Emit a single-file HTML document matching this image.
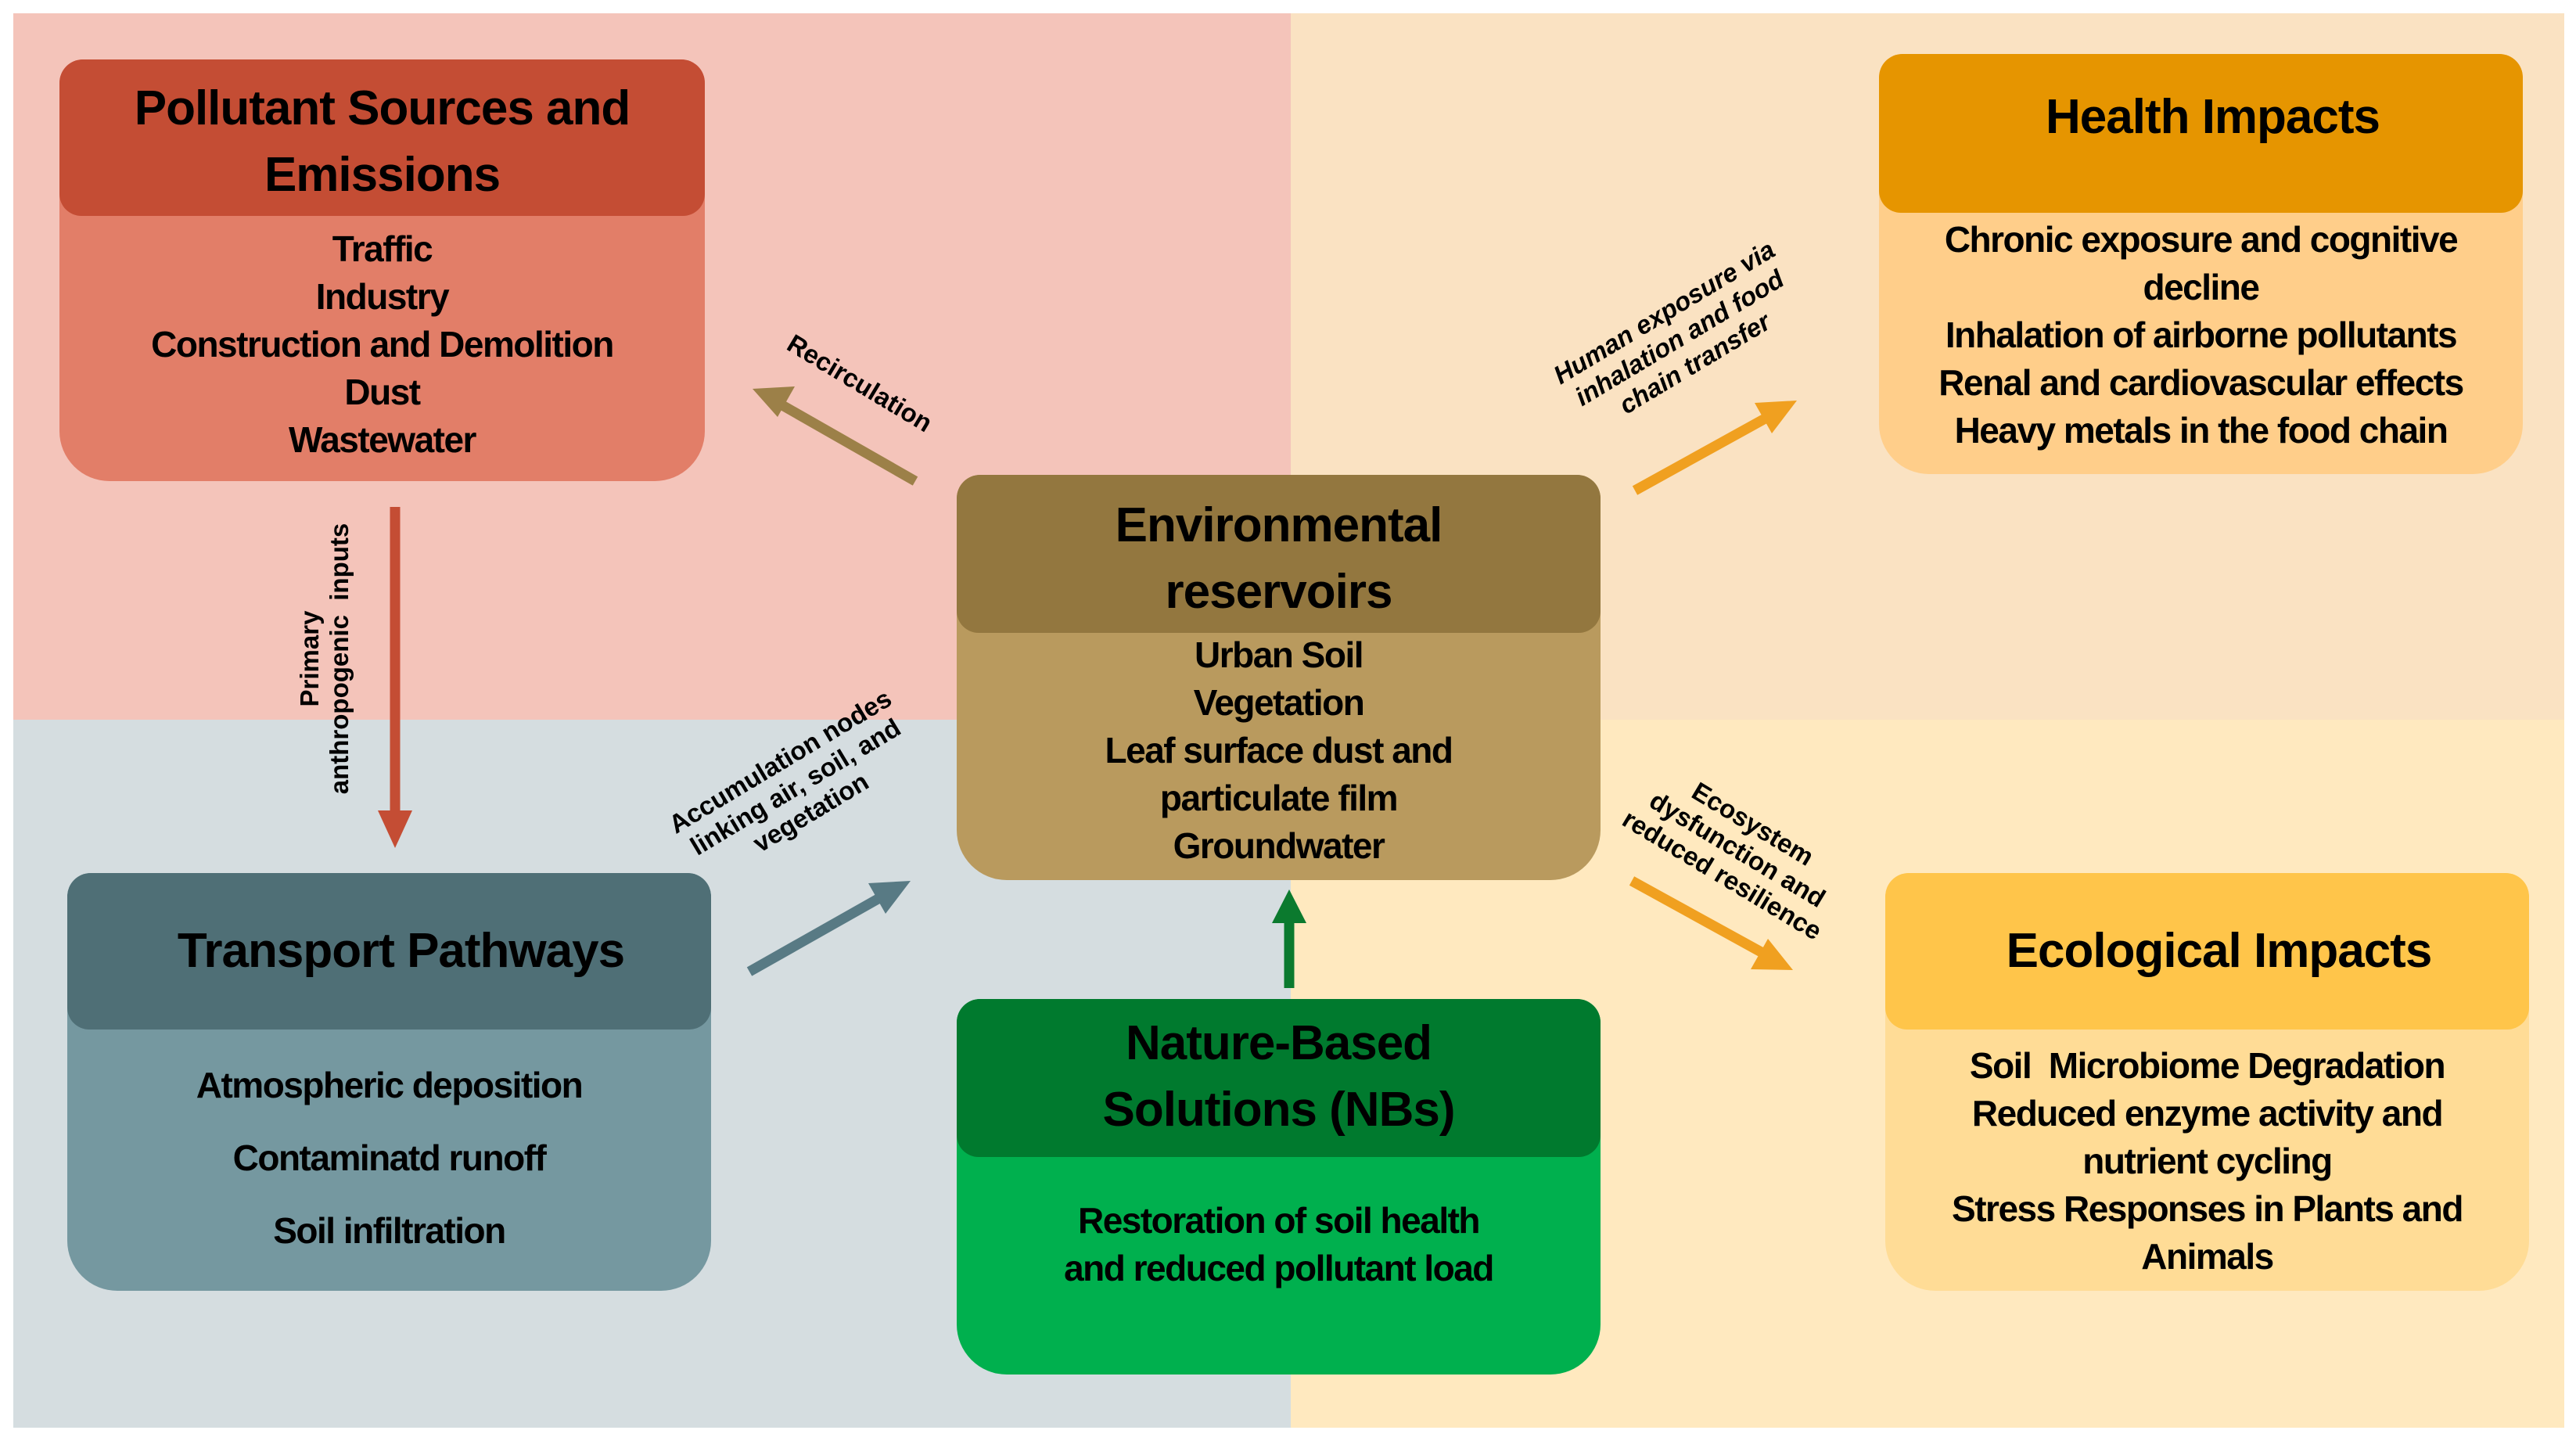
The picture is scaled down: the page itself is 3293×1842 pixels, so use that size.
<!DOCTYPE html>
<html><head><meta charset="utf-8"><style>
*{margin:0;padding:0;box-sizing:border-box}
body{width:3293px;height:1842px;background:#fff;position:relative;overflow:hidden;font-family:"Liberation Sans",sans-serif;font-weight:bold;color:#000}
.q{position:absolute}
.box{position:absolute;border-radius:30px 30px 64px 64px;overflow:hidden}
.hd{position:absolute;left:0;right:0;top:0;border-radius:28px;text-align:center;font-size:62px;line-height:85px;letter-spacing:-1px}
.bd{position:absolute;left:0;right:0;text-align:center;font-size:46px;line-height:61px;letter-spacing:-1.5px}
.lab{position:absolute;font-size:33px;line-height:38px;text-align:center;white-space:nowrap;transform-origin:center}
</style></head><body>
<div class="q" style="left:17px;top:17px;width:1633px;height:903px;background:#F4C4BA"></div>
<div class="q" style="left:17px;top:920px;width:1633px;height:905px;background:#D5DDE0"></div>
<div class="q" style="left:1650px;top:17px;width:1628px;height:903px;background:#FAE2C2"></div>
<div class="q" style="left:1650px;top:920px;width:1628px;height:905px;background:#FFE9BF"></div>

<div class="box" style="left:76px;top:76px;width:825px;height:539px;background:#E27E68">
 <div class="hd" style="height:200px;background:#C44D34;padding-top:20px">Pollutant Sources and<br>Emissions</div>
 <div class="bd" style="top:212px">Traffic<br>Industry<br>Construction and Demolition<br>Dust<br>Wastewater</div>
</div>

<div class="box" style="left:86px;top:1116px;width:823px;height:534px;background:#7598A0">
 <div class="hd" style="height:200px;background:#4F6F76;line-height:200px;padding-left:30px">Transport Pathways</div>
 <div class="bd" style="top:225px;line-height:93px">Atmospheric deposition<br>Contaminatd runoff<br>Soil infiltration</div>
</div>

<div class="box" style="left:1223px;top:607px;width:823px;height:518px;background:#B99A5E">
 <div class="hd" style="height:202px;background:#93773F;padding-top:22px">Environmental<br>reservoirs</div>
 <div class="bd" style="top:200px">Urban Soil<br>Vegetation<br>Leaf surface dust and<br>particulate film<br>Groundwater</div>
</div>

<div class="box" style="left:1223px;top:1277px;width:823px;height:480px;background:#00B04E">
 <div class="hd" style="height:202px;background:#007A2E;padding-top:14px">Nature-Based<br>Solutions (NBs)</div>
 <div class="bd" style="top:253px">Restoration of soil health<br>and reduced pollutant load</div>
</div>

<div class="box" style="left:2402px;top:69px;width:823px;height:537px;background:#FFCE8A">
 <div class="hd" style="height:203px;background:#E69500;line-height:6px;padding-top:78px;padding-left:30px">Health Impacts</div>
 <div class="bd" style="top:207px">Chronic exposure and cognitive<br>decline<br>Inhalation of airborne pollutants<br>Renal and cardiovascular effects<br>Heavy metals in the food chain</div>
</div>

<div class="box" style="left:2410px;top:1116px;width:823px;height:534px;background:#FFDC96">
 <div class="hd" style="height:200px;background:#FFC54A;line-height:200px;padding-left:30px">Ecological Impacts</div>
 <div class="bd" style="top:216px">Soil &nbsp;Microbiome Degradation<br>Reduced enzyme activity and<br>nutrient cycling<br>Stress Responses in Plants and<br>Animals</div>
</div>

<svg class="q" style="left:0;top:0" width="3293" height="1842">
 <g stroke-width="13" fill="none">
  <line x1="505" y1="648" x2="505" y2="1040" stroke="#C44D34"/>
  <path d="M483,1036L505,1084L527,1036z" fill="#C44D34" stroke="none"/>
  <line x1="1170" y1="615" x2="1000" y2="518" stroke="#9C8048"/>
  <path d="M962,497L1016,494L994,533z" fill="#9C8048" stroke="none"/>
  <line x1="958" y1="1242" x2="1126" y2="1147" stroke="#587A84"/>
  <path d="M1164,1126L1110,1129L1132,1168z" fill="#587A84" stroke="none"/>
  <line x1="1648" y1="1263" x2="1648" y2="1175" stroke="#0B7A2E"/>
  <path d="M1626,1180L1648,1137L1670,1180z" fill="#0B7A2E" stroke="none"/>
  <line x1="2090" y1="627" x2="2260" y2="533" stroke="#F0A020"/>
  <path d="M2297,512L2243,515L2265,554z" fill="#F0A020" stroke="none"/>
  <line x1="2086" y1="1126" x2="2255" y2="1219" stroke="#F0A020"/>
  <path d="M2292,1240L2238,1239L2260,1200z" fill="#F0A020" stroke="none"/>
 </g>
</svg>

<div class="lab" style="left:415px;top:842px;transform:translate(-50%,-50%) rotate(-90deg)">Primary<br>anthropogenic&nbsp; inputs</div>
<div class="lab" style="left:1099px;top:490px;transform:translate(-50%,-50%) rotate(31deg)">Recirculation</div>
<div class="lab" style="left:1017px;top:1006px;transform:translate(-50%,-50%) rotate(-31deg)">Accumulation nodes<br>linking air, soil, and<br>vegetation</div>
<div class="lab" style="left:2147px;top:432px;transform:translate(-50%,-50%) rotate(-31deg);font-style:italic">Human exposure via<br>inhalation and food<br>chain transfer</div>
<div class="lab" style="left:2221px;top:1086px;transform:translate(-50%,-50%) rotate(31deg)">Ecosystem<br>dysfunction and<br>reduced resilience</div>
</body></html>
